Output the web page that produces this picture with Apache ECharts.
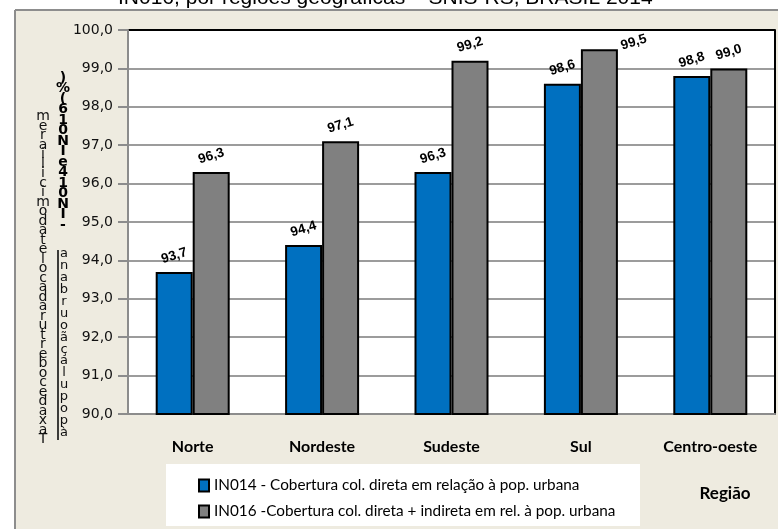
<!DOCTYPE html>
<html>
<head>
<meta charset="utf-8">
<script src="https://cdn.jsdelivr.net/npm/echarts@6/dist/echarts.min.js"></script>
<style>html,body{margin:0;padding:0;background:#fff}#c{width:778px;height:529px}</style>
</head>
<body>
<div id="c"></div>
<script>
const categories = ['Norte', 'Nordeste', 'Sudeste', 'Sul', 'Centro-oeste'];
const in014 = [93.7, 94.4, 96.3, 98.6, 98.8];
const in016 = [96.3, 97.1, 99.2, 99.5, 99.0];
const seriesNames = ['IN014 - Cobertura col. direta em relação à pop. urbana',
                     'IN016 -Cobertura col. direta + indireta em rel. à pop. urbana'];
const yMin = 90, yMax = 100, yStep = 1;
const titleText = 'IN016, por regiões geográficas – SNIS-RS, BRASIL 2014';
const xName = 'Região';
const yNameA = 'Taxa de cobertura da coleta domiciliar em';
const yNameB1 = 'à população urbana';
const yNameB2 = '- IN014 e IN016 (%)';

function stackRev(s) { return s.replace(/ /g, '').split('').reverse().join('\n'); }
const fmt = v => v.toFixed(1).replace('.', ',');

const chart = echarts.init(document.getElementById('c'));
const labelBase = {
  show: true, position: 'top', distance: 16, rotate: 17,
  align: 'center', verticalAlign: 'middle',
  fontFamily: 'Liberation Sans', fontWeight: 'bold', fontSize: 13.5, color: '#000',
  formatter: p => fmt(p.value)
};
const data016 = in016.map((v, i) => i === 3 ? {
  value: v,
  label: { position: ['100%', 0], align: 'left', verticalAlign: 'middle', offset: [4, -2], distance: 0 }
} : v);

const nLines = Math.round((yMax - yMin) / yStep) + 1;
const splitColors = Array.from({length: nLines}, (_, i) => i === nLines - 1 ? '#000' : '#9c9c9c');

chart.setOption({
  backgroundColor: '#EEEBE0',
  animation: false,
  graphic: [
    { type: 'rect', z: 1, shape: { x: 0, y: 0, width: 778, height: 10 }, style: { fill: '#fff' } },
    { type: 'rect', z: 1, shape: { x: 0, y: 0, width: 15, height: 529 }, style: { fill: '#fff' } },
    { type: 'line', z: 2, shape: { x1: 15, y1: 10, x2: 778, y2: 10 }, style: { stroke: '#8d8d8d', lineWidth: 2 } },
    { type: 'line', z: 2, shape: { x1: 15, y1: 10, x2: 15, y2: 529 }, style: { stroke: '#8d8d8d', lineWidth: 2 } },
    { type: 'text', z: 3, x: 118, y: -2, style: { text: titleText, font: '21px "Liberation Sans"', fill: '#000', textAlign: 'left', textVerticalAlign: 'middle' } },
    { type: 'rect', z: 1, shape: { x: 166, y: 464, width: 474, height: 62 }, style: { fill: '#fff' } },
    { type: 'text', z: 3, x: 725, y: 494, style: { text: xName, font: 'bold 17px Lato', fill: '#000', textAlign: 'center', textVerticalAlign: 'middle' } },
    { type: 'text', z: 3, x: 43, y: 112, style: { text: stackRev(yNameA), font: '14px "DejaVu Sans"', fill: '#111', textAlign: 'center', textVerticalAlign: 'top', lineHeight: 9.5 } },
    { type: 'text', z: 3, x: 63, y: 73, style: { text: stackRev(yNameB2), font: 'bold 14px "DejaVu Sans"', fill: '#000', textAlign: 'center', textVerticalAlign: 'top', lineHeight: 10.5 } },
    { type: 'text', z: 3, x: 64, y: 248, style: { text: stackRev(yNameB1), font: '13px "DejaVu Sans"', fill: '#111', textAlign: 'center', textVerticalAlign: 'top', lineHeight: 11.9 } },
    { type: 'line', z: 3, shape: { x1: 58, y1: 250, x2: 58, y2: 440 }, style: { stroke: '#000', lineWidth: 1.5 } }
  ],
  grid: { left: 128, top: 30, width: 647, height: 384, show: true, backgroundColor: '#fff', borderWidth: 0 },
  legend: {
    orient: 'vertical', left: 193, top: 472, itemWidth: 10, itemHeight: 12, itemGap: 9,
    icon: 'rect', data: seriesNames,
    itemStyle: { borderColor: '#000', borderWidth: 2 },
    textStyle: { fontFamily: 'Lato', fontSize: 15.3, color: '#000', lineHeight: 17 }
  },
  xAxis: {
    type: 'category', data: categories,
    axisLine: { lineStyle: { color: '#8c8c8c', width: 2 } },
    axisTick: { length: 7, lineStyle: { color: '#8c8c8c', width: 2 } },
    axisLabel: { margin: 25, fontFamily: 'Lato', fontWeight: 'bold', fontSize: 16, color: '#000' }
  },
  yAxis: [{
    type: 'value', min: yMin, max: yMax, interval: yStep,
    axisLine: { show: true, lineStyle: { color: '#8c8c8c', width: 2 } },
    axisTick: { show: true, length: 10, lineStyle: { color: '#8c8c8c', width: 2 } },
    axisLabel: { margin: 15, fontFamily: 'DejaVu Sans', fontSize: 14, color: '#111', formatter: v => fmt(v) },
    splitLine: { lineStyle: { color: splitColors, width: 2 } }
  }, {
    type: 'value', min: yMin, max: yMax, interval: yStep, position: 'right',
    axisLine: { show: true, lineStyle: { color: '#000', width: 2 } },
    axisTick: { show: false }, axisLabel: { show: false }, splitLine: { show: false }
  }],
  series: [
    { name: seriesNames[0], type: 'bar', data: in014, barWidth: 37, barGap: '0%',
      itemStyle: { color: '#0070C0', borderColor: '#000', borderWidth: 2 }, label: labelBase },
    { name: seriesNames[1], type: 'bar', data: data016, barWidth: 37, barGap: '0%',
      itemStyle: { color: '#808080', borderColor: '#000', borderWidth: 2 }, label: labelBase }
  ]
});
</script>
</body>
</html>
